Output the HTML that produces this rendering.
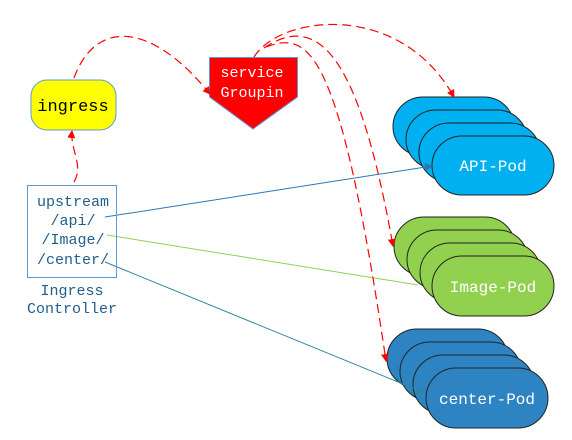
<!DOCTYPE html>
<html><head><style>body{margin:0;background:#fff}svg{display:block}text{font-family:"Liberation Mono","DejaVu Sans Mono",monospace}</style></head><body>
<svg width="572" height="440" viewBox="0 0 572 440" xmlns="http://www.w3.org/2000/svg">
<defs>
<marker id="r" markerWidth="8" markerHeight="8" refX="7" refY="4" orient="auto" markerUnits="userSpaceOnUse"><path d="M0,0 L8,4 L0,8Z" fill="#f00"/></marker>
<marker id="b" markerWidth="8" markerHeight="8" refX="7" refY="4" orient="auto" markerUnits="userSpaceOnUse"><path d="M0,0 L8,4 L0,8Z" fill="#2e75b6"/></marker>
<marker id="t" markerWidth="8" markerHeight="8" refX="7" refY="4" orient="auto" markerUnits="userSpaceOnUse"><path d="M0,0 L8,4 L0,8Z" fill="#31859c"/></marker>
</defs>
<g stroke="#222" stroke-width="1">
<g fill="#00b0f0">
<rect x="393" y="97" width="121" height="59" rx="30"/><rect x="406" y="110" width="121" height="59" rx="30"/><rect x="419" y="123" width="121" height="59" rx="30"/><rect x="432" y="136" width="122" height="59" rx="30"/></g>
<g fill="#92d050">
<rect x="394" y="217" width="121" height="59" rx="30"/><rect x="407" y="230" width="121" height="59" rx="30"/><rect x="420" y="243" width="121" height="59" rx="30"/><rect x="432" y="256" width="122" height="60" rx="30"/></g>
<g fill="#2e84c3">
<rect x="387" y="329" width="121" height="59" rx="30"/><rect x="400" y="342" width="121" height="59" rx="30"/><rect x="413" y="355" width="121" height="59" rx="30"/><rect x="426" y="368" width="122" height="60" rx="30"/></g>
</g>
<g fill="#fff" font-size="16" text-anchor="middle">
<text x="493" y="171">API-Pod</text><text x="493" y="292">Image-Pod</text><text x="487" y="404">center-Pod</text></g>
<line x1="105" y1="217" x2="432" y2="166" stroke="#2e75b6" marker-end="url(#b)"/>
<line x1="107" y1="235" x2="418" y2="285" stroke="#92d050"/>
<line x1="105" y1="262" x2="425" y2="393" stroke="#31859c" marker-end="url(#t)"/>
<rect x="31" y="80" width="85" height="50" rx="16" fill="#ff0" stroke="#5b9bd5"/>
<text x="73" y="111" font-size="17" text-anchor="middle" fill="#000">ingress</text>
<rect x="27.5" y="185.5" width="89" height="92" fill="none" stroke="#5b9bd5"/>
<g fill="#1f5f8b" font-size="15" text-anchor="middle">
<text x="73" y="206">upstream</text><text x="73" y="225">/api/</text><text x="73" y="244">/Image/</text><text x="73" y="264">/center/</text>
<text x="72" y="295">Ingress</text><text x="72" y="313">Controller</text></g>
<path d="M209.5,57.5 H297.5 V97 L253,129 L209.5,97Z" fill="#f00" stroke="#5b9bd5"/>
<g fill="#fff" font-size="15" text-anchor="middle"><text x="252" y="77">service</text><text x="252" y="97">Groupin</text></g>
<g fill="none" stroke="#f00" stroke-dasharray="9,5" stroke-width="1.2">
<path d="M74,182 C84,165 70,150 72,131" marker-end="url(#r)"/>
<path d="M74,78 C95,20 150,20 210,94" marker-end="url(#r)"/>
<path d="M254,57 C280,15 400,0 454,97" marker-end="url(#r)"/>
<path d="M264,48 C320,10 360,60 393,246" marker-end="url(#r)"/>
<path d="M266,47 C310,30 340,50 386,361" marker-end="url(#r)"/>
</g>
</svg>
</body></html>
